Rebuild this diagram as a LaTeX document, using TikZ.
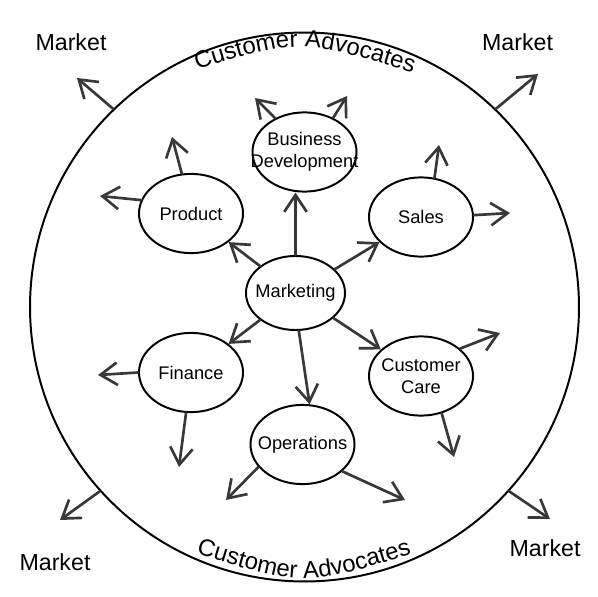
\documentclass[tikz,border=0pt]{standalone}
\usepackage{fontspec}
\setmainfont{Liberation Sans}
\usetikzlibrary{arrows.meta, shapes.geometric, decorations.text}

\newcommand{\kreisfont}{\fontsize{17}{20}\selectfont}
\newcommand{\marktfont}{\fontsize{16.5}{19}\selectfont}

\tikzset{
	abteilung/.style={ellipse, draw=black, line width=1.4pt, minimum width=2.6cm, minimum height=1.98cm,
		inner xsep=-15pt, inner ysep=0pt, align=center, font=\fontsize{13}{15.6}\selectfont},
	pfeil/.style={->, draw=black!78, line width=1.9pt},
	markt/.style={font=\marktfont}
}

\begin{document}
\begin{tikzpicture}[line cap=round,line join=round,>={Straight Barb[length=12pt,width=16pt]},x=0.025cm,y=-0.025cm]
		\useasboundingbox (0,0) rectangle (598,597);

		% Kreis der Customer Advocates
		\node[circle, draw=black, line width=1.4pt, minimum size=13.72cm, inner sep=0pt] (kreis) at (304.5,307) {};
		\path[decorate, decoration={text along path, text={|\kreisfont|Customer Advocates}, text align=center}]
			(190,72) .. controls (300,38) .. (420,75);
		\path[decorate, decoration={text along path, text={|\kreisfont|Customer Advocates}, text align=center}]
			(190,552) .. controls (304,587) .. (418,552);

		% Abteilungen
		\node[abteilung, minimum width=2.475cm, minimum height=1.85cm] (mkt) at (295.5,293) {Marketing};
		\node[abteilung] (prod) at (191,213.5) {Product};
		\node[abteilung] (bd) at (304.5,152) {Business\\Development};
		\node[abteilung] (sales) at (421,217) {Sales};
		\node[abteilung] (fin) at (191,372.5) {Finance};
		\node[abteilung] (cc) at (421,376) {Customer\\Care};
		\node[abteilung] (ops) at (302.5,444.5) {Operations};

		% Markt
		\node[markt] (m1) at (71,42) {Market};
		\node[markt] (m2) at (517.5,42) {Market};
		\node[markt] (m3) at (55,562) {Market};
		\node[markt] (m4) at (545,548) {Market};

		% Marketing nach innen
		\draw[pfeil] (mkt) -- (prod);
		\draw[pfeil] (mkt.north) -- (mkt.north |- bd.south);
		\draw[pfeil] (mkt) -- (sales);
		\draw[pfeil] (mkt) -- (fin);
		\draw[pfeil] (mkt) -- (cc);
		\draw[pfeil] (mkt.275) -- (ops.80);

		% Pfeile nach aussen
		\coordinate (prod-l) at (100,196);
		\coordinate (prod-o) at (172,137);
		\coordinate (bd-l) at (255,98);
		\coordinate (bd-r) at (347,96);
		\coordinate (sales-o) at (439,145);
		\coordinate (sales-r) at (510,213);
		\coordinate (fin-l) at (98,375);
		\coordinate (fin-u) at (179,467);
		\coordinate (cc-r) at (500,333);
		\coordinate (cc-u) at (454,457);
		\coordinate (ops-l) at (226,500);
		\coordinate (ops-r) at (405,500);

		\draw[pfeil] (prod.165) -- (prod-l);
		\draw[pfeil] (prod.103) -- (prod-o);
		\draw[pfeil] (bd.131) -- (bd-l);
		\draw[pfeil] (bd.50) -- (bd-r);
		\draw[pfeil] (sales.71) -- (sales-o);
		\draw[pfeil] (sales.2) -- (sales-r);
		\draw[pfeil] (fin.180) -- (fin-l);
		\draw[pfeil] (fin.263) -- (fin-u);
		\draw[pfeil] (cc.35) -- (cc-r);
		\draw[pfeil] (cc.299) -- (cc-u);
		\draw[pfeil] (ops.207) -- (ops-l);
		\draw[pfeil] (ops.326) -- (ops-r);

		% zum Markt
		\coordinate (k1) at (77,78);
		\coordinate (k2) at (538,74);
		\coordinate (k3) at (60,520);
		\coordinate (k4) at (550,519);
		\draw[pfeil] (kreis.134) -- (k1);
		\draw[pfeil] (kreis.46) -- (k2);
		\draw[pfeil] (kreis.222) -- (k3);
		\draw[pfeil] (kreis.318) -- (k4);
	\end{tikzpicture}
\end{document}
